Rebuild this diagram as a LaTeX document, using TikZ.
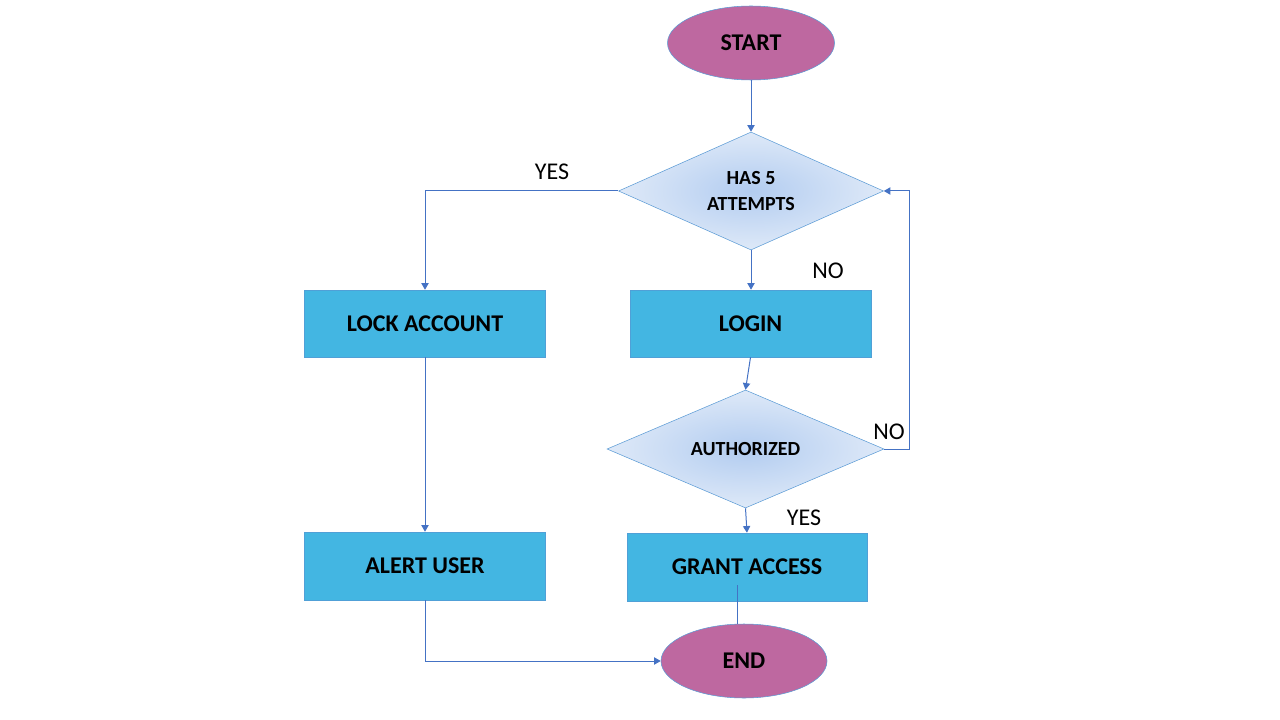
\documentclass[tikz,border=0pt]{standalone}
\usepackage{fontspec}
\setmainfont{Carlito}
\usetikzlibrary{shapes.geometric,arrows.meta}
\definecolor{termfill}{RGB}{190,104,160}
\definecolor{termline}{RGB}{91,155,213}
\definecolor{boxfill}{RGB}{67,182,226}
\definecolor{boxline}{RGB}{80,160,215}
\definecolor{arrowcol}{RGB}{68,114,196}
\definecolor{decin}{RGB}{178,204,240}
\definecolor{decout}{RGB}{222,233,248}
\begin{document}
\begin{tikzpicture}[x=0.75pt, y=-0.75pt]
        \tikzstyle{term} = [ellipse, draw=termline, fill=termfill, minimum width=167*0.75pt, minimum height=74*0.75pt, inner sep=0pt, font=\bfseries\fontsize{18}{20}\selectfont]
        \tikzstyle{act} = [rectangle, draw=boxline, fill=boxfill, minimum width=241*0.75pt, minimum height=67*0.75pt, inner sep=0pt, font=\bfseries\fontsize{18}{20}\selectfont]
        \tikzstyle{dec} = [diamond, draw=termline, shading=radial, inner color=decin, outer color=decout, minimum width=265*0.75pt, minimum height=118*0.75pt, aspect=2.25, inner sep=0pt, align=center, font=\bfseries\fontsize{15}{19}\selectfont]
        \tikzstyle{lbl} = [font=\fontsize{18}{20}\selectfont, inner sep=0pt]
        \tikzstyle{conn} = [arrowcol, line width=0.75pt, -{Triangle[width=5.5pt,length=5pt]}]
        \useasboundingbox (0,0) rectangle (1280,720);
        \node [term] (st) at (751,43) {START};
        \node [dec] (att) at (751,191) {HAS 5\\ATTEMPTS};
        \node [act] (lock) at (425,323.5) {LOCK ACCOUNT};
        \node [act] (login) at (750.5,323.5) {LOGIN};
        \node [dec, minimum width=277*0.75pt, aspect=2.35] (auth) at (745.5,449) {AUTHORIZED};
        \node [act, minimum width=240*0.75pt, minimum height=68*0.75pt] (grant) at (747,567) {GRANT ACCESS};
        \node [act, minimum height=68*0.75pt] (alert) at (425,566) {ALERT USER};
        \node [term, minimum width=166*0.75pt] (en) at (744,661) {END};
        \draw [conn] (st) -- (att);
        \draw [conn] (att.west) -| (lock.north);
        \draw [conn] (att.south) -- (login.north -| att.south);
        \draw [conn] (lock) -- (alert);
        \draw [conn] (login.south) -- (auth.north);
        \draw [conn] (auth.east) -- ++(25,0) |- (att.east);
        \draw [conn] (auth.south) -- (grant.north);
        \draw [arrowcol, line width=0.75pt] ([xshift=-10*0.75pt, yshift=16*0.75pt]grant.south) -- ([xshift=-7*0.75pt]en.north);
        \draw [conn] (alert.south) |- (en.west);
        \node [lbl] (yes1) at (552,172) {YES};
        \node [lbl] (no1) at (828,271) {NO};
        \node [lbl] (no2) at (889,432) {NO};
        \node [lbl] (yes2) at (804,518) {YES};
    \end{tikzpicture}
\end{document}
